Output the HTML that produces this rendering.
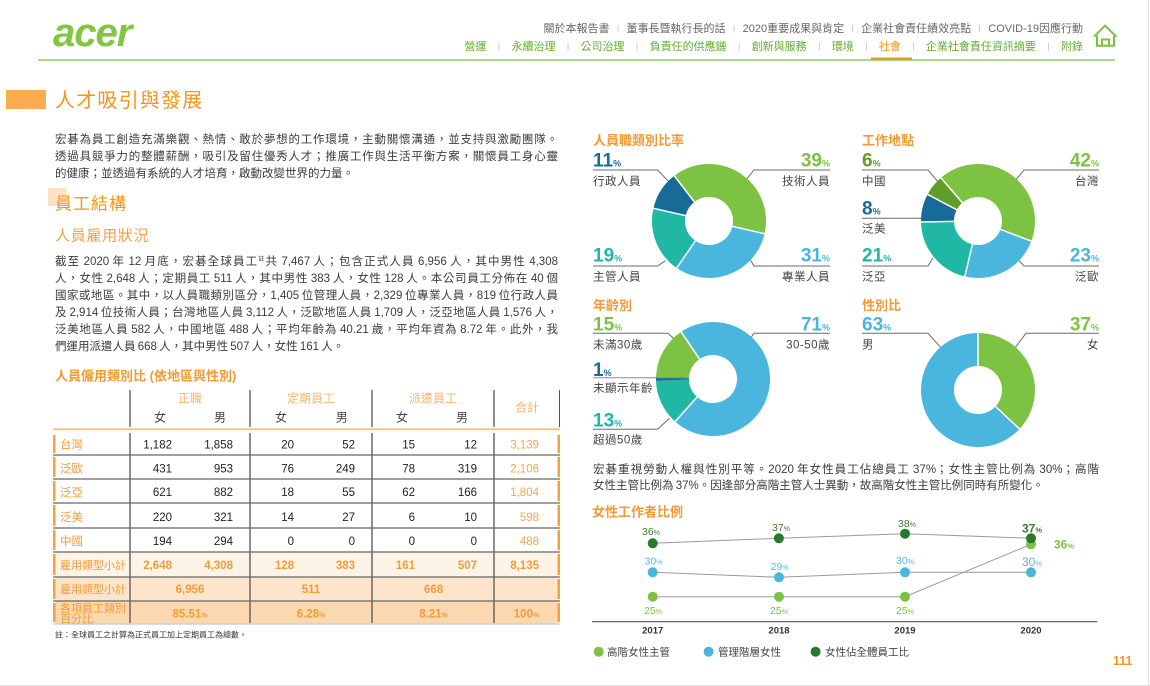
<!DOCTYPE html>
<html><head><meta charset="utf-8">
<style>
html,body{margin:0;padding:0;background:#fff;}
body{width:1150px;height:686px;position:relative;overflow:hidden;font-family:"Liberation Sans","Noto Sans CJK TC",sans-serif;}
svg{position:absolute;left:0;top:0;}
svg text{font-family:"Liberation Sans","Noto Sans CJK TC",sans-serif;}
.nav{position:absolute;right:67px;font-size:11px;line-height:14px;white-space:nowrap;}
.nav i{font-style:normal;font-size:8px;color:#b5b5b5;vertical-align:1px;}
.n1{top:22px;color:#666;}
.n1 i{margin:0 7.5px;}
.n2{top:40px;color:#5fae2f;}
.n2 i{margin:0 11.5px;}
.n2 b{font-weight:normal;color:#f7941d;}
.p{position:absolute;font-size:11.5px;color:#3c3c3c;word-spacing:-1px;}
.p div{text-align:justify;text-align-last:justify;}
.p div.l{text-align-last:left;}
.p sup{font-size:6px;vertical-align:4px;line-height:0;}
</style></head>
<body>
<svg width="1150" height="686" viewBox="0 0 1150 686" xmlns="http://www.w3.org/2000/svg">
<!-- header -->
<text x="53" y="46" font-weight="bold" font-style="italic" font-size="40" fill="#83c440" letter-spacing="-1">acer</text>
<line x1="38" y1="60" x2="1115" y2="60" stroke="#8fca5f" stroke-width="1.5"/>
<rect x="871" y="57.5" width="41" height="2.5" fill="#f7941d"/>
<g fill="none" stroke="#7cc142" stroke-width="2">
<polyline points="1094,36.7 1105,25.7 1116.5,36.7"/>
<polyline points="1097,35.5 1097,45.7 1114,45.7 1114,35.5"/>
<polyline points="1102,45.7 1102,39.5 1109,39.5 1109,45.7"/>
</g>
<!-- title -->
<rect x="6" y="90" width="40" height="19" fill="#f9ad4f"/>
<text x="55" y="107" font-size="20" fill="#f7941d" letter-spacing="1.2">人才吸引與發展</text>
<rect x="48" y="188" width="19" height="18" fill="#fde3c6"/>
<text x="55" y="209.5" font-size="17" fill="#f7941d" letter-spacing="1">員工結構</text>
<text x="55" y="240.7" font-size="15" fill="#f7a045" letter-spacing="0.7">人員雇用狀況</text>
<text x="55" y="380.6" font-size="13" font-weight="bold" fill="#f39a34">人員僱用類別比 (依地區與性別)</text>

<!-- table -->
<g>
<rect x="55.5" y="552.5" width="502" height="24.5" fill="#fef3e7"/>
<rect x="55.5" y="577" width="502" height="24" fill="#fde5cb"/>
<rect x="55.5" y="601" width="502" height="22.5" fill="#fbd8b0"/>
<g stroke="#555" stroke-width="1.3">
<line x1="130" y1="390" x2="130" y2="427"/><line x1="250" y1="390" x2="250" y2="427"/>
<line x1="372" y1="390" x2="372" y2="427"/><line x1="494" y1="390" x2="494" y2="427"/>
<line x1="559.5" y1="390" x2="559.5" y2="427" stroke-width="1"/>
<line x1="130" y1="433" x2="130" y2="623"/><line x1="250" y1="433" x2="250" y2="623"/>
<line x1="372" y1="433" x2="372" y2="623"/><line x1="494" y1="433" x2="494" y2="623"/>
</g>
<line x1="53" y1="429.3" x2="560" y2="429.3" stroke="#f9c48a" stroke-width="2"/>
<g stroke="#666" stroke-width="1.3">
<line x1="53" y1="455" x2="560" y2="455"/><line x1="53" y1="479" x2="560" y2="479"/>
<line x1="53" y1="503" x2="560" y2="503"/><line x1="53" y1="528" x2="560" y2="528"/>
<line x1="53" y1="552" x2="560" y2="552"/><line x1="53" y1="577" x2="560" y2="577"/>
<line x1="53" y1="601" x2="560" y2="601"/>
</g>
<line x1="53" y1="624" x2="560" y2="624" stroke="#cfcfcf" stroke-width="1.5"/>
<g fill="#f7a13e">
<rect x="53" y="435" width="2.5" height="18"/><rect x="557.5" y="435" width="2.5" height="18"/>
<rect x="53" y="457" width="2.5" height="20"/><rect x="557.5" y="457" width="2.5" height="20"/>
<rect x="53" y="481" width="2.5" height="20"/><rect x="557.5" y="481" width="2.5" height="20"/>
<rect x="53" y="505" width="2.5" height="21"/><rect x="557.5" y="505" width="2.5" height="21"/>
<rect x="53" y="530" width="2.5" height="20"/><rect x="557.5" y="530" width="2.5" height="20"/>
<rect x="53" y="554" width="2.5" height="21"/><rect x="557.5" y="554" width="2.5" height="21"/>
<rect x="53" y="579" width="2.5" height="20"/><rect x="557.5" y="579" width="2.5" height="20"/>
<rect x="53" y="603" width="2.5" height="19"/><rect x="557.5" y="603" width="2.5" height="19"/>
</g>
<g font-size="12" text-anchor="middle">
<text x="190" y="402.6" fill="#f8b46c">正職</text>
<text x="311" y="402.6" fill="#f8b46c">定期員工</text>
<text x="433" y="402.6" fill="#f8b46c">派遣員工</text>
<text x="527" y="411.6" fill="#f8b46c">合計</text>
<g fill="#444">
<text x="160" y="421.6">女</text><text x="220" y="421.6">男</text>
<text x="281" y="421.6">女</text><text x="341.7" y="421.6">男</text>
<text x="402" y="421.6">女</text><text x="462" y="421.6">男</text>
</g>
</g>
<g font-size="11.5" fill="#f39b37">
<text x="60" y="448.6">台灣</text><text x="60" y="472.6">泛歐</text><text x="60" y="496.4">泛亞</text>
<text x="60" y="521">泛美</text><text x="60" y="545">中國</text>
</g>
<g font-size="11" fill="#f39b37">
<text x="60" y="569.2">雇用類型小計</text><text x="60" y="593.2">雇用類型小計</text>
<text x="60" y="611.9">各項員工類別</text><text x="60" y="622.5">百分比</text>
</g>
<g font-size="11.5" fill="#222" text-anchor="end">
<text x="172" y="448.4">1,182</text><text x="233" y="448.4">1,858</text><text x="294" y="448.4">20</text><text x="355" y="448.4">52</text><text x="415" y="448.4">15</text><text x="477" y="448.4">12</text>
<text x="172" y="472.4">431</text><text x="233" y="472.4">953</text><text x="294" y="472.4">76</text><text x="355" y="472.4">249</text><text x="415" y="472.4">78</text><text x="477" y="472.4">319</text>
<text x="172" y="496.1">621</text><text x="233" y="496.1">882</text><text x="294" y="496.1">18</text><text x="355" y="496.1">55</text><text x="415" y="496.1">62</text><text x="477" y="496.1">166</text>
<text x="172" y="520.8">220</text><text x="233" y="520.8">321</text><text x="294" y="520.8">14</text><text x="355" y="520.8">27</text><text x="415" y="520.8">6</text><text x="477" y="520.8">10</text>
<text x="172" y="544.8">194</text><text x="233" y="544.8">294</text><text x="294" y="544.8">0</text><text x="355" y="544.8">0</text><text x="415" y="544.8">0</text><text x="477" y="544.8">0</text>
</g>
<g font-size="11.5" fill="#f6a651" text-anchor="end">
<text x="539" y="448.4">3,139</text><text x="539" y="472.4">2,106</text><text x="539" y="496.1">1,804</text><text x="539" y="520.8">598</text><text x="539" y="544.8">488</text>
</g>
<g font-size="11.5" font-weight="bold" fill="#f39b37" text-anchor="end">
<text x="172" y="569.1">2,648</text><text x="233" y="569.1">4,308</text><text x="294" y="569.1">128</text><text x="355" y="569.1">383</text><text x="415" y="569.1">161</text><text x="477" y="569.1">507</text><text x="539" y="569.1">8,135</text>
</g>
<g font-size="11.5" font-weight="bold" fill="#f39b37" text-anchor="middle">
<text x="190" y="593.1">6,956</text><text x="311" y="593.1">511</text><text x="433.6" y="593.1">668</text>
<text x="190" y="617.4">85.51<tspan font-size="7">%</tspan></text>
<text x="311" y="617.4">6.28<tspan font-size="7">%</tspan></text>
<text x="433.6" y="617.4">8.21<tspan font-size="7">%</tspan></text>
<text x="526.5" y="617.4">100<tspan font-size="7">%</tspan></text>
</g>
<text x="55" y="637.3" font-size="8" fill="#333">註：全球員工之計算為正式員工加上定期員工為總數。</text>
</g>

<!-- chart titles -->
<g font-size="13" font-weight="bold" fill="#f39a34">
<text x="593" y="145">人員職類別比率</text>
<text x="862" y="145">工作地點</text>
<text x="593" y="310">年齡別</text>
<text x="862" y="310">性別比</text>
<text x="592" y="516.5">女性工作者比例</text>
</g>

<!-- leader lines -->
<g fill="none" stroke="#6b6b6b" stroke-width="1">
<polyline points="593,170 657.6,170 668.8,181.7"/>
<polyline points="830,170 753.9,170 746.5,179.3"/>
<polyline points="593,266 657.6,266 665.4,260.7"/>
<polyline points="830,266 753.9,266 750.5,260"/>
<polyline points="862,170 928,170 938,181.7"/>
<polyline points="862,218.3 923,218.3"/>
<polyline points="1099,170 1024,170 1015.7,180"/>
<polyline points="862,266 928,266 933,258"/>
<polyline points="1099,266 1024,266 1018.5,260"/>
<polyline points="593,333.3 667.8,333.3 673.5,338.3"/>
<polyline points="593,429.3 657.6,429.3 669.5,418.3"/>
<polyline points="830,333.3 754,333.3 750.5,338.3"/>
<polyline points="862,333.3 928,333.3 941.4,348.3"/>
<polyline points="1099,333.3 1026,333.3 1014.7,348.3"/>
</g>

<!-- donut 1 -->
<g transform="translate(709,221)" fill="none" stroke-width="33">
<circle r="40.5" stroke="#7dc243" stroke-dasharray="99.25 999" transform="rotate(-127.5)"/>
<circle r="40.5" stroke="#4ab6dd" stroke-dasharray="78.89 999" transform="rotate(12.9)"/>
<circle r="40.5" stroke="#20b7a5" stroke-dasharray="48.35 999" transform="rotate(124.5)"/>
<circle r="40.5" stroke="#186a97" stroke-dasharray="27.99 999" transform="rotate(192.9)"/>
<g stroke="#fff" stroke-width="1.5">
<line y1="-23" y2="-58" transform="rotate(-37.5)"/><line y1="-23" y2="-58" transform="rotate(102.9)"/>
<line y1="-23" y2="-58" transform="rotate(214.5)"/><line y1="-23" y2="-58" transform="rotate(282.9)"/>
</g>
</g>
<!-- donut 2 -->
<g transform="translate(978,221)" fill="none" stroke-width="33">
<circle r="40.5" stroke="#7dc243" stroke-dasharray="106.88 999" transform="rotate(-130.6)"/>
<circle r="40.5" stroke="#4ab6dd" stroke-dasharray="58.53 999" transform="rotate(20.6)"/>
<circle r="40.5" stroke="#20b7a5" stroke-dasharray="53.44 999" transform="rotate(103.4)"/>
<circle r="40.5" stroke="#186a97" stroke-dasharray="20.36 999" transform="rotate(179)"/>
<circle r="40.5" stroke="#5f9e29" stroke-dasharray="15.27 999" transform="rotate(207.8)"/>
<g stroke="#fff" stroke-width="1.5">
<line y1="-23" y2="-58" transform="rotate(-40.6)"/><line y1="-23" y2="-58" transform="rotate(110.6)"/>
<line y1="-23" y2="-58" transform="rotate(193.4)"/><line y1="-23" y2="-58" transform="rotate(269)"/>
<line y1="-23" y2="-58" transform="rotate(297.8)"/>
</g>
</g>
<!-- donut 3 -->
<g transform="translate(713,379)" fill="none" stroke-width="33">
<circle r="40.5" stroke="#4ab6dd" stroke-dasharray="180.67 999" transform="rotate(-124)"/>
<circle r="40.5" stroke="#20b7a5" stroke-dasharray="33.08 999" transform="rotate(131.6)"/>
<circle r="40.5" stroke="#186a97" stroke-dasharray="2.54 999" transform="rotate(178.4)"/>
<circle r="40.5" stroke="#7dc243" stroke-dasharray="38.17 999" transform="rotate(182)"/>
<g stroke="#fff" stroke-width="1.5">
<line y1="-23" y2="-58" transform="rotate(-34)"/><line y1="-23" y2="-58" transform="rotate(221.6)"/>
</g>
</g>
<line x1="593" y1="377.7" x2="686" y2="377.7" stroke="#8a8a8a" stroke-width="1"/>
<!-- donut 4 -->
<g transform="translate(978,390)" fill="none" stroke-width="33">
<circle r="40.5" stroke="#7dc243" stroke-dasharray="94.15 999" transform="rotate(-90)"/>
<circle r="40.5" stroke="#4ab6dd" stroke-dasharray="160.32 999" transform="rotate(43.2)"/>
<g stroke="#fff" stroke-width="1.5">
<line y1="-23" y2="-58"/><line y1="-23" y2="-58" transform="rotate(133.2)"/>
</g>
</g>

<!-- donut labels -->
<g font-size="19" font-weight="bold">
<text x="593" y="166.5" fill="#1a6b9a">11<tspan font-size="9">%</tspan></text>
<text x="830" y="166.5" fill="#7dc243" text-anchor="end">39<tspan font-size="9">%</tspan></text>
<text x="593" y="261.7" fill="#20b7a5">19<tspan font-size="9">%</tspan></text>
<text x="830" y="261.7" fill="#4ab6dd" text-anchor="end">31<tspan font-size="9">%</tspan></text>
<text x="862" y="166.5" fill="#5f9e29">6<tspan font-size="9">%</tspan></text>
<text x="862" y="214.3" fill="#1a6b9a">8<tspan font-size="9">%</tspan></text>
<text x="862" y="261.7" fill="#20b7a5">21<tspan font-size="9">%</tspan></text>
<text x="1099" y="166.5" fill="#7dc243" text-anchor="end">42<tspan font-size="9">%</tspan></text>
<text x="1099" y="261.7" fill="#4ab6dd" text-anchor="end">23<tspan font-size="9">%</tspan></text>
<text x="593" y="330.7" fill="#7dc243">15<tspan font-size="9">%</tspan></text>
<text x="593" y="376" fill="#1a6b9a">1<tspan font-size="9">%</tspan></text>
<text x="593" y="426.5" fill="#20b7a5">13<tspan font-size="9">%</tspan></text>
<text x="830" y="330.7" fill="#4ab6dd" text-anchor="end">71<tspan font-size="9">%</tspan></text>
<text x="862" y="330.7" fill="#4ab6dd">63<tspan font-size="9">%</tspan></text>
<text x="1099" y="330.7" fill="#7dc243" text-anchor="end">37<tspan font-size="9">%</tspan></text>
</g>
<g font-size="11.5" fill="#444" letter-spacing="0.5">
<text x="593" y="185">行政人員</text>
<text x="830" y="185" text-anchor="end">技術人員</text>
<text x="593" y="280.3">主管人員</text>
<text x="830" y="280.3" text-anchor="end">專業人員</text>
<text x="862" y="185">中國</text>
<text x="862" y="232.7">泛美</text>
<text x="862" y="280.3">泛亞</text>
<text x="1099" y="185" text-anchor="end">台灣</text>
<text x="1099" y="280.3" text-anchor="end">泛歐</text>
<text x="593" y="348.5">未滿30歲</text>
<text x="593" y="392">未顯示年齡</text>
<text x="593" y="443.5">超過50歲</text>
<text x="830" y="348.5" text-anchor="end">30-50歲</text>
<text x="862" y="348.5">男</text>
<text x="1099" y="348.5" text-anchor="end">女</text>
</g>

<!-- line chart -->
<g fill="none" stroke="#9a9a9a" stroke-width="1">
<polyline points="652.7,543.3 778.9,538.3 905,533.7 1031,538.3"/>
<polyline points="652.7,572.3 779,577.3 905,572.3 1031,572.3"/>
<polyline points="652.7,596.7 779,596.7 905,596.7 1031,544.3"/>
</g>
<g fill="#4ab6de">
<circle cx="652.7" cy="572.3" r="5"/><circle cx="779" cy="577.3" r="5"/><circle cx="905" cy="572.3" r="5"/><circle cx="1031" cy="572.3" r="5"/>
</g>
<g fill="#7dc243">
<circle cx="652.7" cy="596.7" r="5"/><circle cx="779" cy="596.7" r="5"/><circle cx="905" cy="596.7" r="5"/><circle cx="1031" cy="544.3" r="5"/>
</g>
<g fill="#267a2b">
<circle cx="652.7" cy="543.3" r="5"/><circle cx="778.9" cy="538.3" r="5"/><circle cx="905" cy="533.7" r="5"/><circle cx="1031" cy="538.3" r="5"/>
</g>
<g font-size="10.5" text-anchor="middle">
<g fill="#3a7d2f">
<text x="651" y="535">36<tspan font-size="7">%</tspan></text>
<text x="781" y="531.2">37<tspan font-size="7">%</tspan></text>
<text x="907" y="527.2">38<tspan font-size="7">%</tspan></text>
<text x="1032" y="532.6" font-size="12" font-weight="bold">37<tspan font-size="7.5">%</tspan></text>
</g>
<g fill="#5ab8e0">
<text x="653.5" y="564.6">30<tspan font-size="7">%</tspan></text>
<text x="779.6" y="569.9">29<tspan font-size="7">%</tspan></text>
<text x="905" y="563.9">30<tspan font-size="7">%</tspan></text>
<text x="1032" y="566" font-size="12">30<tspan font-size="7.5">%</tspan></text>
</g>
<g fill="#7dc243">
<text x="653" y="613.9">25<tspan font-size="7">%</tspan></text>
<text x="779" y="613.9">25<tspan font-size="7">%</tspan></text>
<text x="905" y="613.9">25<tspan font-size="7">%</tspan></text>
<text x="1064" y="548.6" font-size="12" font-weight="bold">36<tspan font-size="7.5">%</tspan></text>
</g>
</g>
<line x1="592" y1="621.7" x2="1097.4" y2="621.7" stroke="#555" stroke-width="1.2"/>
<g font-size="9.5" font-weight="bold" fill="#333" text-anchor="middle">
<text x="652.7" y="633.5">2017</text><text x="779" y="633.5">2018</text><text x="905" y="633.5">2019</text><text x="1031" y="633.5">2020</text>
</g>
<circle cx="598.7" cy="651.7" r="5" fill="#7dc243"/>
<circle cx="708.6" cy="651.7" r="5" fill="#4ab6de"/>
<circle cx="815.6" cy="651.7" r="5" fill="#267a2b"/>
<g font-size="10.5" fill="#444">
<text x="607" y="655.7">高階女性主管</text>
<text x="718" y="655.7">管理階層女性</text>
<text x="825" y="655.7">女性佔全體員工比</text>
</g>
<text x="1113" y="665.2" font-size="12.5" font-weight="bold" fill="#f7941d">111</text>
<line x1="1148.5" y1="0" x2="1148.5" y2="686" stroke="#e2e2e2" stroke-width="1"/>
<line x1="0" y1="685.5" x2="1150" y2="685.5" stroke="#e2e2e2" stroke-width="1"/>
</svg>

<div class="nav n1">關於本報告書<i>|</i>董事長暨執行長的話<i>|</i>2020重要成果與肯定<i>|</i>企業社會責任績效亮點<i>|</i>COVID-19因應行動</div>
<div class="nav n2">營運<i>|</i>永續治理<i>|</i>公司治理<i>|</i>負責任的供應鏈<i>|</i>創新與服務<i>|</i>環境<i>|</i><b>社會</b><i>|</i>企業社會責任資訊摘要<i>|</i>附錄</div>

<div class="p" style="left:55px;top:131.5px;width:503px;line-height:17px;">
<div>宏碁為員工創造充滿樂觀、熱情、敢於夢想的工作環境，主動關懷溝通，並支持與激勵團隊。</div>
<div>透過具競爭力的整體薪酬，吸引及留住優秀人才；推廣工作與生活平衡方案，關懷員工身心靈</div>
<div class="l">的健康；並透過有系統的人才培育，啟動改變世界的力量。</div>
</div>

<div class="p" style="left:55px;top:253.5px;width:503px;line-height:17.15px;">
<div>截至 2020 年 12 月底，宏碁全球員工<sup>註</sup>共 7,467 人；包含正式人員 6,956 人，其中男性 4,308</div>
<div>人，女性 2,648 人；定期員工 511 人，其中男性 383 人，女性 128 人。本公司員工分佈在 40 個</div>
<div>國家或地區。其中，以人員職類別區分，1,405 位管理人員，2,329 位專業人員，819 位行政人員</div>
<div>及 2,914 位技術人員；台灣地區人員 3,112 人，泛歐地區人員 1,709 人，泛亞地區人員 1,576 人，</div>
<div>泛美地區人員 582 人，中國地區 488 人；平均年齡為 40.21 歲，平均年資為 8.72 年。此外，我</div>
<div class="l">們運用派遣人員 668 人，其中男性 507 人，女性 161 人。</div>
</div>

<div class="p" style="left:593px;top:461.5px;width:506px;line-height:16.7px;">
<div>宏碁重視勞動人權與性別平等。2020 年女性員工佔總員工 37%；女性主管比例為 30%；高階</div>
<div class="l">女性主管比例為 37%。因逢部分高階主管人士異動，故高階女性主管比例同時有所變化。</div>
</div>
</body></html>
